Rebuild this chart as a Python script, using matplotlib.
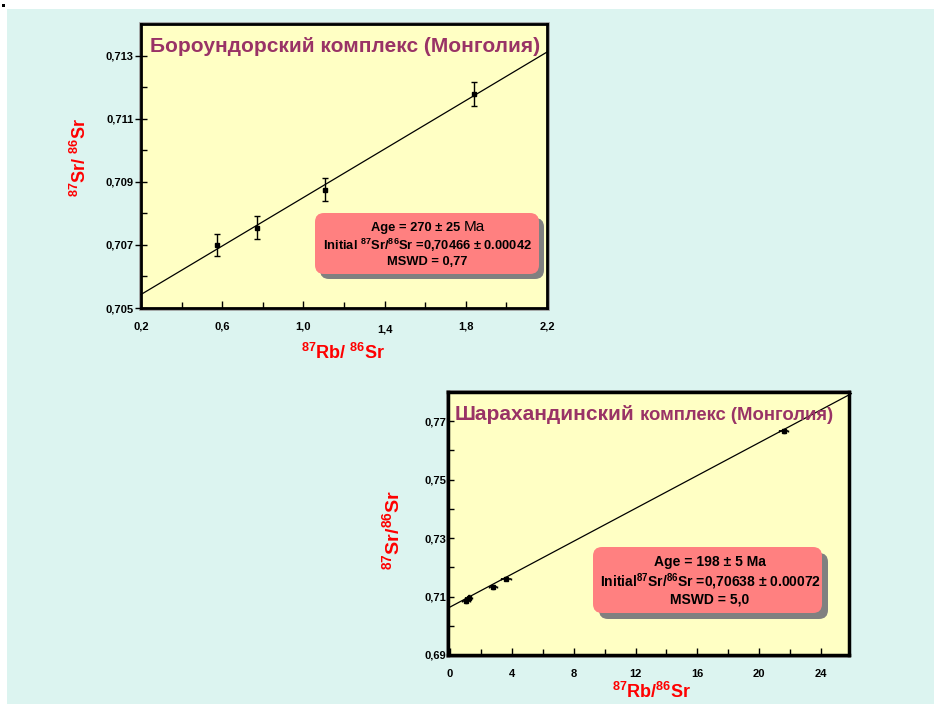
import matplotlib
matplotlib.use('Agg')
import matplotlib.pyplot as plt
import numpy as np
from matplotlib.patches import Rectangle, FancyBboxPatch
from matplotlib.ticker import FixedLocator, FuncFormatter
from matplotlib.transforms import ScaledTranslation

plt.rcParams['font.family'] = ['Liberation Sans', 'DejaVu Sans']
plt.rcParams['mathtext.fontset'] = 'custom'
plt.rcParams['mathtext.rm'] = 'Liberation Sans:bold'
plt.rcParams['mathtext.bf'] = 'Liberation Sans:bold'
plt.rcParams['mathtext.default'] = 'regular'

LAMBDA_RB = 1.42e-11  # 87Rb decay constant, 1/yr

# --- Бороундорский комплекс ---
boro_rb = [0.576, 0.770, 1.106, 1.842]
boro_sr = [0.70700, 0.70755, 0.70875, 0.71178]
boro_sr_err = [0.00036, 0.00035, 0.00037, 0.00037]
boro_age, boro_age_err = 270, 25
boro_init, boro_init_err = 0.70466, 0.00042
boro_mswd = '0,77'
boro_xticks = [0.2, 0.6, 1.0, 1.4, 1.8, 2.2]
boro_xminor = [0.4, 0.8, 1.2, 1.6, 2.0]
boro_yticks = [0.705, 0.707, 0.709, 0.711, 0.713]
boro_yminor = [0.706, 0.708, 0.710, 0.712]

# --- Шарахандинский комплекс ---
shar_rb = [1.06, 1.21, 2.79, 3.63, 21.58]
shar_sr = [0.7085, 0.7096, 0.7132, 0.7161, 0.7667]
shar_rb_err = [0.25, 0.25, 0.25, 0.3, 0.3]
shar_sr_err = [0.0008, 0.0008, 0.0006, 0.0006, 0.0006]
shar_age, shar_age_err = 198, 5
shar_init, shar_init_err = 0.70638, 0.00072
shar_mswd = '5,0'
shar_xticks = [0, 4, 8, 12, 16, 20, 24]
shar_xminor = [2, 6, 10, 14, 18, 22]
shar_yticks = [0.69, 0.71, 0.73, 0.75, 0.77]
shar_yminor = [0.70, 0.72, 0.74, 0.76]

TITLE_C = '#993366'
AX_BG = '#FFFFC4'
PANEL = '#DCF4F0'
BOX_C = '#FF8080'
SHADOW_C = '#808080'

W, H = 934, 704
fig = plt.figure(figsize=(W / 100, H / 100), dpi=100)
fig.patch.set_facecolor('white')
px = fig.dpi_scale_trans  # inches; 1 px = 0.01 in


def P(x, y):
    """pixel (top-left origin) -> inches for dpi_scale_trans"""
    return x / 100, (H - y) / 100


# panel background
fig.patches.append(Rectangle((7 / W, 0), 1, 1 - 9 / H, transform=fig.transFigure,
                             facecolor=PANEL, edgecolor='none', zorder=-10))
fig.patches.append(Rectangle((2 / W, 1 - 7 / H), 3 / W, 3 / H, transform=fig.transFigure,
                             facecolor='black', edgecolor='none'))


def isochron(ax, slope, intercept, xlim):
    xs = np.array(xlim)
    ax.plot(xs, intercept + slope * xs, color='black', lw=0.9, zorder=2, clip_on=False)


def style_axes(ax, spine_lw):
    ax.set_facecolor(AX_BG)
    for s in ax.spines.values():
        s.set_linewidth(spine_lw)
        s.set_color('black')


def frame_shadow(x0, y0, x1, y1):
    bx, by = P(x0 - 1.5, y1 + 1.5)
    fig.patches.append(Rectangle((bx, by), (x1 - x0 + 3) / 100, (y1 - y0 + 3) / 100,
                                 transform=px, facecolor='none', edgecolor='#9a9a9a',
                                 lw=1.2, zorder=-5))


def info_box(x0, y0, x1, y1, shadow=6):
    bx, by = P(x0, y1)
    w, h = (x1 - x0) / 100, (y1 - y0) / 100
    fig.patches.append(FancyBboxPatch((bx + shadow / 100, by - shadow / 100), w, h,
                                      boxstyle='round,pad=0,rounding_size=0.09',
                                      transform=px, facecolor=SHADOW_C, edgecolor='none',
                                      zorder=5))
    fig.patches.append(FancyBboxPatch((bx, by), w, h,
                                      boxstyle='round,pad=0,rounding_size=0.09',
                                      transform=px, facecolor=BOX_C, edgecolor='none',
                                      zorder=6))


# ================= chart 1 =================
frame_shadow(141, 24, 547, 308)
ax1 = fig.add_axes([141 / W, 1 - 308 / H, (547 - 141) / W, (308 - 24) / H])
style_axes(ax1, 2.0)
ax1.set_xlim(0.2, 2.2)
ax1.set_ylim(0.705, 0.714)
slope1 = np.exp(LAMBDA_RB * boro_age * 1e6) - 1
isochron(ax1, slope1, boro_init, (0.2, 2.2))
ax1.errorbar(boro_rb, boro_sr, yerr=boro_sr_err, fmt='s', ms=2.5, color='black',
             ecolor='black', elinewidth=1, capsize=2, capthick=1, zorder=3)
ax1.xaxis.set_major_locator(FixedLocator(boro_xticks))
ax1.xaxis.set_minor_locator(FixedLocator(boro_xminor))
ax1.yaxis.set_major_locator(FixedLocator(boro_yticks))
ax1.yaxis.set_minor_locator(FixedLocator(boro_yminor))
ax1.xaxis.set_major_formatter(FuncFormatter(lambda v, p: f'{v:.1f}'.replace('.', ',')))
ax1.yaxis.set_major_formatter(FuncFormatter(lambda v, p: f'{v:.3f}'.replace('.', ',')))
ax1.tick_params(axis='x', which='major', direction='in', length=5, width=1, pad=10,
                labelsize=8)
ax1.tick_params(axis='y', which='major', direction='inout', length=9, width=1, pad=1,
                labelsize=8)
ax1.tick_params(which='minor', direction='in', length=4, width=1)
for lab in ax1.get_xticklabels() + ax1.get_yticklabels():
    lab.set_fontweight('bold')
fig.canvas.draw()
for lab in ax1.get_xticklabels():
    if lab.get_text() == '1,4':
        lab.set_transform(lab.get_transform() + ScaledTranslation(0, -0.03, px))

ax1.text(*P(150, 46), 'Бороундорский комплекс (Монголия)', transform=px,
         fontsize=15, fontweight='bold', color=TITLE_C, va='center', ha='left', zorder=4)

fig.text(*P(80, 157), r'$^{87}$Sr/ $^{86}$Sr', transform=px, rotation=90,
         fontsize=13, fontweight='bold', color='red', ha='center', va='center')
fig.text(*P(343, 353), r'$^{87}$Rb/ $^{86}$Sr', transform=px,
         fontsize=13, fontweight='bold', color='red', ha='center', va='center')

info_box(315, 213, 539, 274, shadow=5)
fig.text(*P(464, 228), f'Age = {boro_age} ± {boro_age_err} ', transform=px,
         fontsize=9.3, fontweight='bold', ha='right', va='center', zorder=7)
fig.text(*P(464, 227), 'Ma', transform=px, fontsize=11, ha='left', va='center', zorder=7)
fig.text(*P(427, 245),
         f'Initial $^{{87}}$Sr/$^{{86}}$Sr =0,{str(boro_init)[2:]} ± {boro_init_err:.5f}',
         transform=px, fontsize=9.3, fontweight='bold', ha='center', va='center', zorder=7)
fig.text(*P(427, 262), f'MSWD = {boro_mswd}', transform=px,
         fontsize=9.3, fontweight='bold', ha='center', va='center', zorder=7)

# ================= chart 2 =================
frame_shadow(448, 392, 849, 655)
ax2 = fig.add_axes([448 / W, 1 - 655 / H, (849 - 448) / W, (655 - 392) / H])
style_axes(ax2, 2.5)
ax2.set_xlim(-0.12, 25.8)
ax2.set_ylim(0.69, 0.78)
slope2 = np.exp(LAMBDA_RB * shar_age * 1e6) - 1
isochron(ax2, slope2, shar_init, (-0.12, 25.95))
ax2.errorbar(shar_rb, shar_sr, xerr=shar_rb_err, yerr=shar_sr_err, fmt='s', ms=2.5,
             color='black', ecolor='black', elinewidth=1.2, capsize=1, zorder=3)
ax2.xaxis.set_major_locator(FixedLocator(shar_xticks))
ax2.xaxis.set_minor_locator(FixedLocator(shar_xminor))
ax2.yaxis.set_major_locator(FixedLocator(shar_yticks))
ax2.yaxis.set_minor_locator(FixedLocator(shar_yminor))
ax2.xaxis.set_major_formatter(FuncFormatter(lambda v, p: f'{v:.0f}'))
ax2.yaxis.set_major_formatter(FuncFormatter(lambda v, p: f'{v:.2f}'.replace('.', ',')))
ax2.tick_params(axis='x', which='major', direction='in', length=5, width=1, pad=10,
                labelsize=8)
ax2.tick_params(axis='y', which='major', direction='in', length=4, width=1, pad=1,
                labelsize=8)
ax2.tick_params(which='minor', direction='in', length=4, width=1)
for lab in ax2.get_xticklabels() + ax2.get_yticklabels():
    lab.set_fontweight('bold')

t1 = ax2.text(*P(455, 420), 'Шарахандинский', transform=px, fontsize=15,
              fontweight='bold', color=TITLE_C, va='baseline', ha='left', zorder=4)
ax2.annotate(' комплекс (Монголия)', xy=(1, 0), xycoords=t1, fontsize=13.3,
             fontweight='bold', color=TITLE_C, va='bottom', ha='left', zorder=4)

fig.text(*P(392, 530), r'$^{87}$Sr/$^{86}$Sr', transform=px, rotation=90,
         fontsize=14, fontweight='bold', color='red', ha='center', va='center')
fig.text(*P(652, 692), r'$^{87}$Rb/$^{86}$Sr', transform=px,
         fontsize=13, fontweight='bold', color='red', ha='center', va='center')

info_box(593, 547, 822, 613, shadow=6)
fig.text(*P(710, 562), f'Age = {shar_age} ± {shar_age_err} Ma', transform=px,
         fontsize=10, fontweight='bold', ha='center', va='center', zorder=7)
fig.text(*P(710, 582),
         f'Initial$^{{87}}$Sr/$^{{86}}$Sr =0,{str(shar_init)[2:]} ± {shar_init_err:.5f}',
         transform=px, fontsize=10, fontweight='bold', ha='center', va='center', zorder=7)
fig.text(*P(710, 600), f'MSWD = {shar_mswd}', transform=px,
         fontsize=10, fontweight='bold', ha='center', va='center', zorder=7)

fig.savefig('out.png', dpi=100, facecolor=fig.get_facecolor())
